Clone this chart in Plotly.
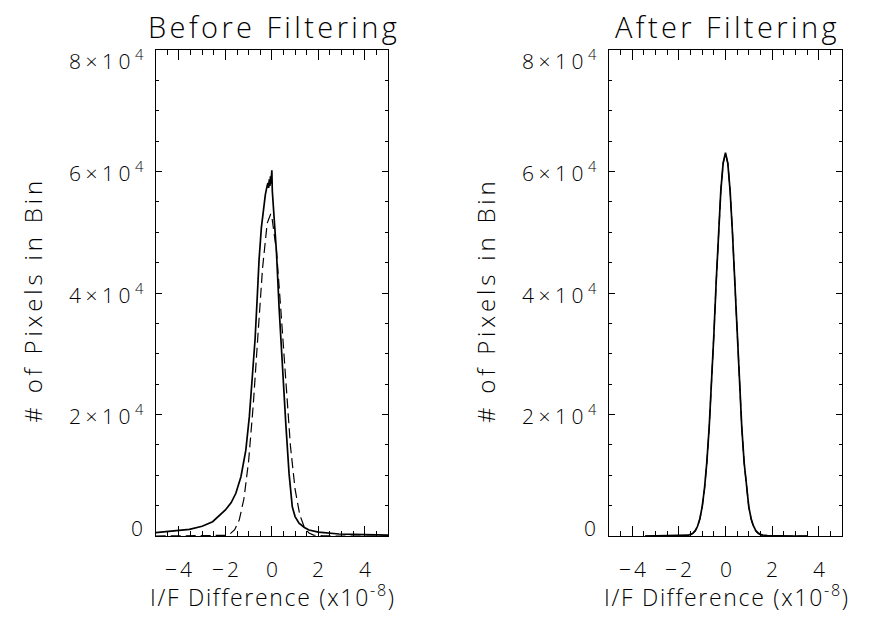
import plotly.graph_objects as go

FONT = "Open Sans, DejaVu Sans, sans-serif"
WEIGHT = 300

# ---------------- data ----------------
panel_titles = ["Before Filtering", "After Filtering"]
x_title = "I/F Difference (x10<sup>-8</sup>)"
y_title = "# of Pixels in Bin"

x_tick_vals = [-4, -2, 0, 2, 4]
x_tick_text = ["\u22124", "\u22122", "0", "2", "4"]
y_tick_vals = [0, 20000, 40000, 60000, 80000]
y_tick_text = ["0", "2\u00d710<sup>4</sup>", "4\u00d710<sup>4</sup>",
               "6\u00d710<sup>4</sup>", "8\u00d710<sup>4</sup>"]

# Before filtering: measured histogram (solid)
before_x = [-5.0, -4.5, -4.0, -3.55, -3.0, -2.55, -2.0, -1.75, -1.55, -1.33,
            -1.12, -0.97, -0.83, -0.72, -0.62, -0.55, -0.45, -0.36, -0.28,
            -0.21, -0.17, -0.14, -0.11, -0.08, -0.06, -0.04, -0.02, 0.0,
            0.02, 0.05, 0.1, 0.2, 0.31, 0.37, 0.45, 0.6, 0.74, 0.88, 1.0,
            1.17, 1.4, 1.6, 2.0, 2.5, 2.89, 3.5, 4.2, 5.0]
before_solid = [550, 700, 870, 1100, 1600, 2350, 4280, 5500, 7030, 9760,
                14150, 19600, 26800, 32500, 40000, 45500, 50800, 54200, 56200,
                57500, 58100, 57300, 58700, 57600, 59200, 58000, 59600, 60200,
                56800, 55000, 52000, 46600, 37700, 33500, 26800, 18500, 10300,
                4800, 3200, 2100, 1400, 990, 650, 450, 330, 260, 200, 160]

# Before filtering: Gaussian fit (dashed)
before_fit_x = [-5.0, -3.0, -2.2, -2.0, -1.8, -1.6, -1.4, -1.2, -1.0, -0.8,
                -0.6, -0.4, -0.2, -0.05, 0.0, 0.2, 0.4, 0.6, 0.8, 1.0, 1.2,
                1.4, 1.6, 1.8, 2.0, 2.2, 3.0, 5.0]
before_fit = [0, 0, 20, 100, 340, 1030, 2690, 6170, 12350, 21600,
              33000, 44100, 51500, 53000, 52560, 46900, 36550, 24900, 14830,
              7720, 3510, 1390, 485, 150, 40, 10, 0, 0]

# After filtering: measured histogram (solid) and Gaussian fit (dashed)
after_x = [-3.45, -2.5, -2.0, -1.8, -1.6, -1.5, -1.4, -1.3, -1.2, -1.1, -1.0,
           -0.9, -0.8, -0.7, -0.6, -0.5, -0.4, -0.3, -0.2, -0.1, 0.0, 0.1,
           0.2, 0.3, 0.4, 0.5, 0.6, 0.7, 0.8, 0.9, 1.0, 1.1, 1.2, 1.3, 1.4,
           1.5, 1.6, 1.8, 2.0, 2.5, 3.5]
after_solid = [0, 10, 30, 60, 130, 260, 470, 880, 1600, 2850, 4850,
               7900, 12200, 17900, 24900, 33100, 41800, 50000, 56900, 61400,
               63100, 61300, 56700, 49800, 41600, 33000, 24800, 17800, 12100,
               7850, 4800, 2850, 1650, 900, 500, 290, 170, 80, 35, 10, 0]
after_fit = [0, 0, 0, 10, 85, 190, 400, 800, 1530, 2770, 4760,
             7780, 12060, 17770, 24860, 33030, 41680, 49930, 56820, 61400,
             63000, 61400, 56820, 49930, 41680, 33030, 24860, 17770, 12060,
             7780, 4760, 2770, 1530, 800, 400, 190, 85, 10, 0, 0, 0]

# ---------------- figure ----------------
W, H = 883, 621
OFF = 8  # the page body adds an 8px margin; positions below are page pixels


def px_x(p):
    return (p - OFF) / W


def px_y(p):
    return 1 - (p - OFF) / H


def spaced(text, px):
    return '<span style="letter-spacing:%.1fpx">%s</span>' % (px, text)


fig = go.Figure()

solid_style = dict(color="black", width=1.7)
dash_style = dict(color="black", width=1.2, dash="10px,5px")

fig.add_trace(go.Scatter(x=before_x, y=before_solid, mode="lines",
                         line=solid_style, xaxis="x", yaxis="y"))
fig.add_trace(go.Scatter(x=before_fit_x, y=before_fit, mode="lines",
                         line=dash_style, xaxis="x", yaxis="y"))
fig.add_trace(go.Scatter(x=after_x, y=after_solid, mode="lines",
                         line=solid_style, xaxis="x2", yaxis="y2"))
fig.add_trace(go.Scatter(x=after_x, y=after_fit, mode="lines",
                         line=dash_style, xaxis="x2", yaxis="y2"))

x_domains = [[px_x(155.7), px_x(388.0)], [px_x(609.0), px_x(842.0)]]
y_domain = [px_y(536.0), px_y(50.0)]


def xaxis_cfg(dom, anchor):
    return dict(domain=dom, anchor=anchor, range=[-5, 5], showgrid=False,
                zeroline=False, showline=True, linecolor="black", linewidth=1,
                mirror="ticks", ticks="inside", ticklen=10, tickwidth=1,
                tickcolor="black", tickmode="array", tickvals=x_tick_vals,
                showticklabels=False,
                minor=dict(tickmode="linear", tick0=0, dtick=0.5, ticks="inside",
                           ticklen=5, tickwidth=1, tickcolor="black",
                           showgrid=False))


def yaxis_cfg(anchor):
    return dict(domain=y_domain, anchor=anchor, range=[0, 80000],
                showgrid=False, zeroline=False, showline=True,
                linecolor="black", linewidth=1, mirror="ticks",
                ticks="inside", ticklen=6, tickwidth=1, tickcolor="black",
                tickmode="array", tickvals=y_tick_vals, showticklabels=False,
                minor=dict(tickmode="linear", tick0=0, dtick=5000,
                           ticks="inside", ticklen=3, tickwidth=1,
                           tickcolor="black", showgrid=False))


fig.update_layout(
    width=W, height=H, autosize=False,
    margin=dict(l=0, r=0, t=0, b=0, autoexpand=False),
    paper_bgcolor="white", plot_bgcolor="white", showlegend=False,
    font=dict(family=FONT, color="black", weight=WEIGHT),
    xaxis=xaxis_cfg(x_domains[0], "y"),
    yaxis=yaxis_cfg("x"),
    xaxis2=xaxis_cfg(x_domains[1], "y2"),
    yaxis2=yaxis_cfg("x2"),
)


def fnt(size):
    return dict(size=size, family=FONT, color="black", weight=WEIGHT)


ann = []
for i, (xdom, title) in enumerate(zip(x_domains, panel_titles)):
    xr = "x" if i == 0 else "x2"
    yr = "y" if i == 0 else "y2"
    cx = (xdom[0] + xdom[1]) / 2
    # panel title
    ann.append(dict(text=spaced(title, 3.4), xref="paper", yref="paper",
                    x=cx, xshift=2, y=px_y(26.0), xanchor="center",
                    yanchor="middle", showarrow=False, font=fnt(29)))
    # x tick labels
    for v, t in zip(x_tick_vals, x_tick_text):
        ann.append(dict(text=spaced(t, 3), xref=xr, yref="paper", x=v,
                        xshift=1.5, y=px_y(569.0), xanchor="center",
                        yanchor="middle", showarrow=False, font=fnt(21)))
    # x axis title
    ann.append(dict(text=spaced(x_title, 1.7), xref="paper", yref="paper",
                    x=cx, xshift=1, y=px_y(596.0), xanchor="center",
                    yanchor="middle", showarrow=False, font=fnt(23)))
    # y tick labels
    for v, t in zip(y_tick_vals, y_tick_text):
        shift = 0
        if v == y_tick_vals[-1]:
            shift = -10
        elif v == y_tick_vals[0]:
            shift = 8
        ann.append(dict(text=spaced(t, 4.5), xref="paper", yref=yr, x=xdom[0],
                        y=v, xanchor="right", yanchor="middle", xshift=-6,
                        yshift=shift, showarrow=False, font=fnt(21)))
    # y axis title
    ann.append(dict(text=spaced(y_title, 3.8), xref="paper", yref="paper",
                    x=xdom[0] - 124.0 / W, y=px_y(300.0), textangle=-90,
                    xanchor="center", yanchor="middle", showarrow=False,
                    font=fnt(24)))

fig.update_layout(annotations=ann)
fig.write_html("out.html")
